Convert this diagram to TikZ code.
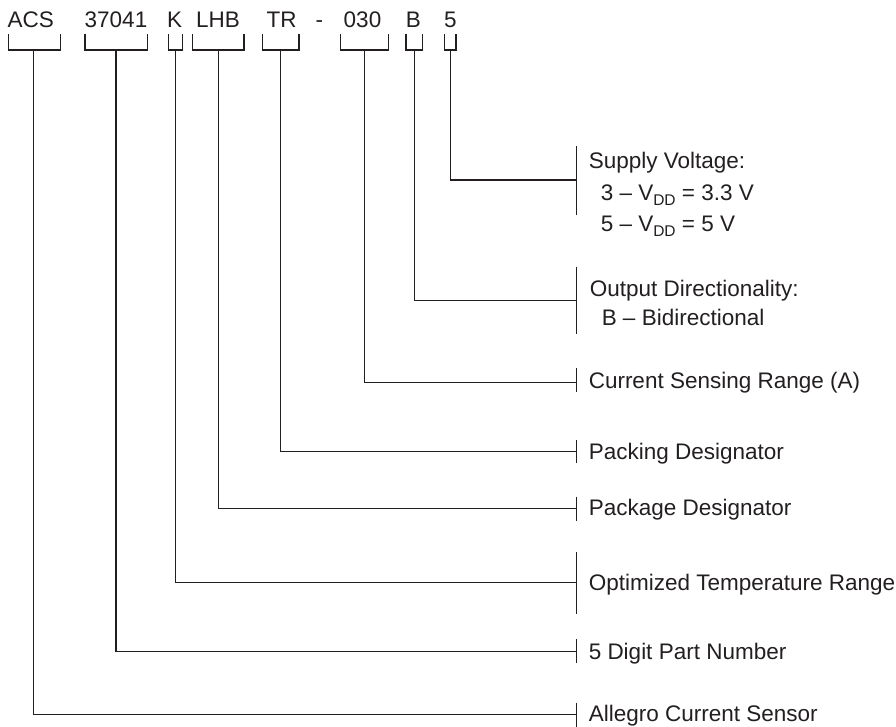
\documentclass[tikz,border=0pt]{standalone}
\usepackage{fontspec}
\setmainfont{Liberation Sans}
\definecolor{ink}{HTML}{231F20}
\newcommand{\vdd}{V\raisebox{-4.5pt}{\fontsize{15.5}{15.5}\selectfont DD}}
\begin{document}
\begin{tikzpicture}[x=1pt,y=-1pt,line width=1.5pt,draw=ink,
  every node/.style={inner sep=0pt,text=ink,font=\fontsize{22.5}{26}\selectfont},
  code/.style={anchor=base},
  lbl/.style={anchor=base west},
  wire/.style={draw=ink,line width=1.5pt}]
\useasboundingbox (0,0) rectangle (896,727);
% part number segments
\node[code] (acs) at (30.7,27.7) {ACS};
\node[code] (num) at (116,27.7) {37041};
\node[code] (k) at (174.7,27.7) {K};
\node[code] (lhb) at (218,27.7) {LHB};
\node[code] (tr) at (281.7,27.7) {TR};
\node[code] (dash) at (319.3,27.7) {-};
\node[code] (rng) at (362.5,27.7) {030};
\node[code] (b) at (413.3,27.7) {B};
\node[code] (five) at (450.5,27.7) {5};
% labels
\node[lbl] (sup1) at (588,168.3) {Supply Voltage:};
\node[lbl] (sup2) at (600,200.7) {3 -- \vdd{} = 3.3 V};
\node[lbl] (sup3) at (600,231.7) {5 -- \vdd{} = 5 V};
\node[lbl] (out1) at (589,296.7) {Output Directionality:};
\node[lbl] (out2) at (601,325) {B -- Bidirectional};
\node[lbl] (cur) at (588,388.7) {Current Sensing Range (A)};
\node[lbl] (pck) at (588,459.2) {Packing Designator};
\node[lbl] (pkg) at (588,515.8) {Package Designator};
\node[lbl] (otr) at (588,590.7) {Optimized Temperature Range};
\node[lbl] (dig) at (588,659.2) {5 Digit Part Number};
\node[lbl] (acl) at (588,721.8) {Allegro Current Sensor};
% brackets, leaders and bars
\foreach \l/\r/\s/\y/\t/\b/\n in {
  8.3/60.7/33.6/714.3/702.7/726.5/acs,
  85/147.7/116.2/651.7/639/663.3/num,
  168.3/182.7/175.7/582.7/551.7/614/k,
  192.7/244/218.3/508.3/496.7/521/lhb,
  262.3/299/280.7/451.7/440/463.3/tr,
  340.7/388.3/364.3/382.7/368.3/392.3/rng,
  406/422.7/414.3/300.7/266.7/334.3/b,
  444.3/456/450.7/180/146/215/five}{
  \coordinate (bl-\n) at (\l,34);
  \coordinate (br-\n) at (\r,34);
  \coordinate (bs-\n) at (\s,50);
  \coordinate (bj-\n) at (576.7,\y);
  \coordinate (bt-\n) at (576.7,\t);
  \coordinate (bb-\n) at (576.7,\b);
  \draw[wire] (bl-\n) |- (br-\n |- bs-\n) -- (br-\n);
  \draw[wire] (bs-\n) |- (bj-\n);
  \draw[wire] (bt-\n) -- (bb-\n);
}
\end{tikzpicture}
\end{document}
